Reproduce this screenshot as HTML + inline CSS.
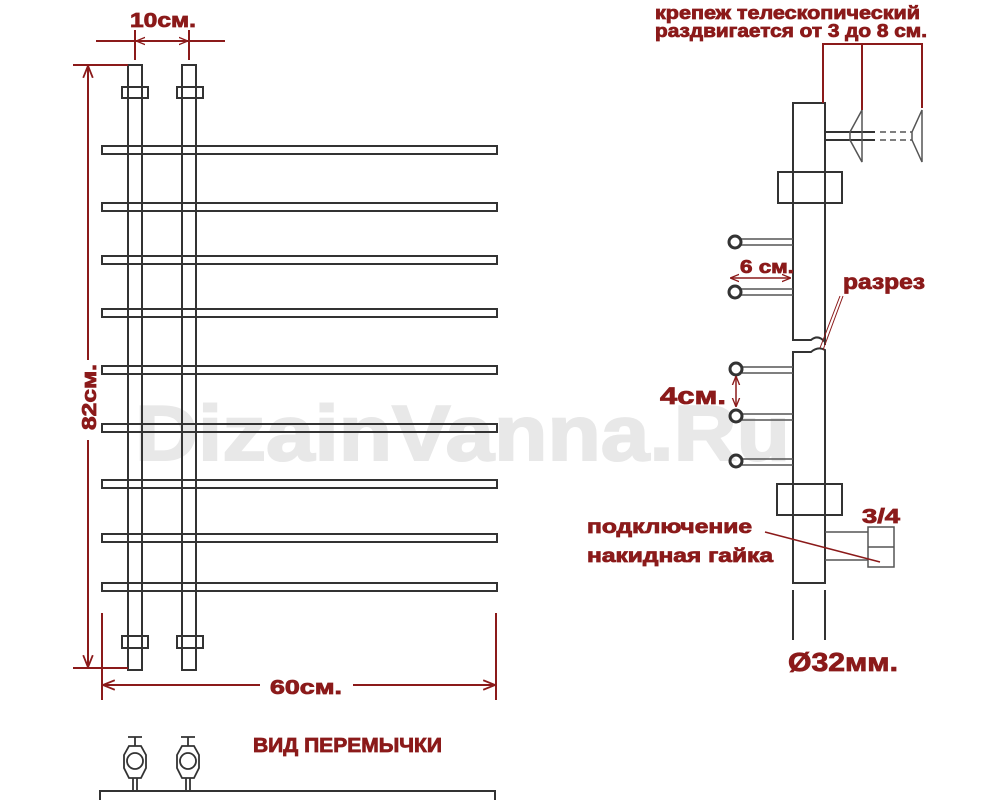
<!DOCTYPE html>
<html><head><meta charset="utf-8"><style>
html,body{margin:0;padding:0;background:#fff;width:1000px;height:800px;overflow:hidden}
svg{display:block}
.r{fill:#8b1a1a;stroke:#8b1a1a;stroke-width:0.8;font-family:"Liberation Sans",sans-serif;font-weight:bold}
</style></head><body>
<svg width="1000" height="800" viewBox="0 0 1000 800" xmlns="http://www.w3.org/2000/svg">
<defs>
<marker id="a" viewBox="0 0 10 10" refX="9" refY="5" markerWidth="6" markerHeight="6" orient="auto-start-reverse"><path d="M0,1 L10,5 L0,9" fill="none" stroke="#8b1a1a" stroke-width="1.5"/></marker>
</defs>
<text x="135" y="460" font-family="Liberation Sans" font-weight="bold" font-size="78" fill="#e8e8e8" stroke="#e8e8e8" stroke-width="2" textLength="655" lengthAdjust="spacingAndGlyphs">DizainVanna.Ru</text>

<g fill="none" stroke="#333" stroke-width="2">
<rect x="102" y="146" width="395" height="8"/>
<rect x="102" y="203" width="395" height="8"/>
<rect x="102" y="256" width="395" height="8"/>
<rect x="102" y="309" width="395" height="8"/>
<rect x="102" y="366" width="395" height="8"/>
<rect x="102" y="424" width="395" height="8"/>
<rect x="102" y="480" width="395" height="8"/>
<rect x="102" y="534" width="395" height="8"/>
<rect x="102" y="583" width="395" height="8"/>
<rect x="128" y="65" width="14" height="605"/>
<rect x="182" y="65" width="14" height="605"/>
<rect x="122" y="87" width="26" height="11"/>
<rect x="177" y="87" width="26" height="11"/>
<rect x="122" y="636" width="26" height="12"/>
<rect x="177" y="636" width="26" height="12"/>
<rect x="100" y="791" width="395" height="10"/>
</g>
<g fill="none" stroke="#333" stroke-width="1.8">
<g transform="translate(135,0)">
<path d="M-7,737 H7 M0,737 V746 M-2,778 V791 M2,778 V791"/>
<polygon points="-11,755 -6,746 6,746 11,755 11,768 6,778 -6,778 -11,768"/>
<circle cx="0" cy="761" r="8"/>
</g>
<g transform="translate(188,0)">
<path d="M-7,737 H7 M0,737 V746 M-2,778 V791 M2,778 V791"/>
<polygon points="-11,755 -6,746 6,746 11,755 11,768 6,778 -6,778 -11,768"/>
<circle cx="0" cy="761" r="8"/>
</g>
</g>

<g stroke="#8b1a1a" stroke-width="2" fill="none">
<path d="M96,41 H225 M135,30 V60 M189,30 V60"/>
<path d="M137,41 H187" marker-start="url(#a)" marker-end="url(#a)" stroke-width="1.5"/>
<path d="M73,65 H128 M73,668 H128"/>
<path d="M88,67 V360" marker-start="url(#a)"/>
<path d="M88,440 V666" marker-end="url(#a)"/>
<path d="M102,613 V700 M496,613 V700"/>
<path d="M104,685 H260" marker-start="url(#a)"/>
<path d="M353,685 H494" marker-end="url(#a)"/>
</g>
<text class="r" x="130" y="27" font-size="20" textLength="66" lengthAdjust="spacingAndGlyphs">10см.</text>
<text class="r" font-size="20" transform="translate(96,430) rotate(-90)" textLength="66" lengthAdjust="spacingAndGlyphs">82см.</text>
<text class="r" x="270" y="694" font-size="20" textLength="72" lengthAdjust="spacingAndGlyphs">60см.</text>
<text class="r" x="253" y="752" font-size="20" textLength="189" lengthAdjust="spacingAndGlyphs">ВИД ПЕРЕМЫЧКИ</text>

<g fill="none" stroke="#333" stroke-width="2">
<path d="M825,345 V103 H793 V340 H811 Q818,334 825,342"/>
<path d="M825,350 Q818,346 811,352 H793 V583 H825 Z"/>
<rect x="778" y="172" width="64" height="31"/>
<rect x="777" y="484" width="65" height="31"/>
<path d="M793,590 V640 M825,590 V640"/>
<path d="M825,132 H875 M825,140 H875"/>
</g>
<g fill="none" stroke="#555" stroke-width="1.5">
<path d="M880,132 H912 M880,140 H912" stroke-dasharray="6,4"/>
<path d="M862,110 L850,132 V140 L862,162 Z"/>
<path d="M922,110 L912,132 V140 L922,162 Z"/>
<path d="M741,239 H793 M741,245 H793 M741,289 H793 M741,295 H793"/>
<path d="M742,367 H793 M742,373 H793 M742,414 H793 M742,420 H793 M742,459 H793 M742,465 H793"/>
<path d="M825,532 H868 M825,560 H868"/>
<rect x="868" y="527" width="26" height="40"/>
<path d="M868,547 H894"/>
</g>
<g fill="none" stroke="#333" stroke-width="3">
<circle cx="735" cy="242" r="6"/>
<circle cx="735" cy="292" r="6"/>
<circle cx="736" cy="369" r="6"/>
<circle cx="736" cy="416" r="6"/>
<circle cx="736" cy="461" r="6"/>
</g>
<g stroke="#8b1a1a" stroke-width="2" fill="none">
<path d="M823,103 V44 H922 V108 M862,44 V110"/>
<path d="M731,278 H790" marker-start="url(#a)" marker-end="url(#a)" stroke-width="1.5"/>
<path d="M736,377 V406" marker-start="url(#a)" marker-end="url(#a)" stroke-width="1.5"/>
<path d="M765,532 L880,562" stroke-width="1.5"/>
<path d="M843,296 L823,350 M840,296 L820,348" stroke-width="1"/>
</g>
<text class="r" x="655" y="19" font-size="18" textLength="265" lengthAdjust="spacingAndGlyphs">крепеж телескопический</text>
<text class="r" x="655" y="37" font-size="18" textLength="272" lengthAdjust="spacingAndGlyphs">раздвигается от 3 до 8 см.</text>
<text class="r" x="740" y="273" font-size="18" textLength="54" lengthAdjust="spacingAndGlyphs">6 см.</text>
<text class="r" x="843" y="289" font-size="21" textLength="82" lengthAdjust="spacingAndGlyphs">разрез</text>
<text class="r" x="660" y="404" font-size="24" textLength="66" lengthAdjust="spacingAndGlyphs">4см.</text>
<text class="r" x="862" y="523" font-size="20" textLength="38" lengthAdjust="spacingAndGlyphs">3/4</text>
<text class="r" x="587" y="533" font-size="19" textLength="165" lengthAdjust="spacingAndGlyphs">подключение</text>
<text class="r" x="587" y="562" font-size="19" textLength="186" lengthAdjust="spacingAndGlyphs">накидная гайка</text>
<text class="r" x="788" y="671" font-size="26" textLength="110" lengthAdjust="spacingAndGlyphs">Ø32мм.</text>
</svg>
</body></html>
